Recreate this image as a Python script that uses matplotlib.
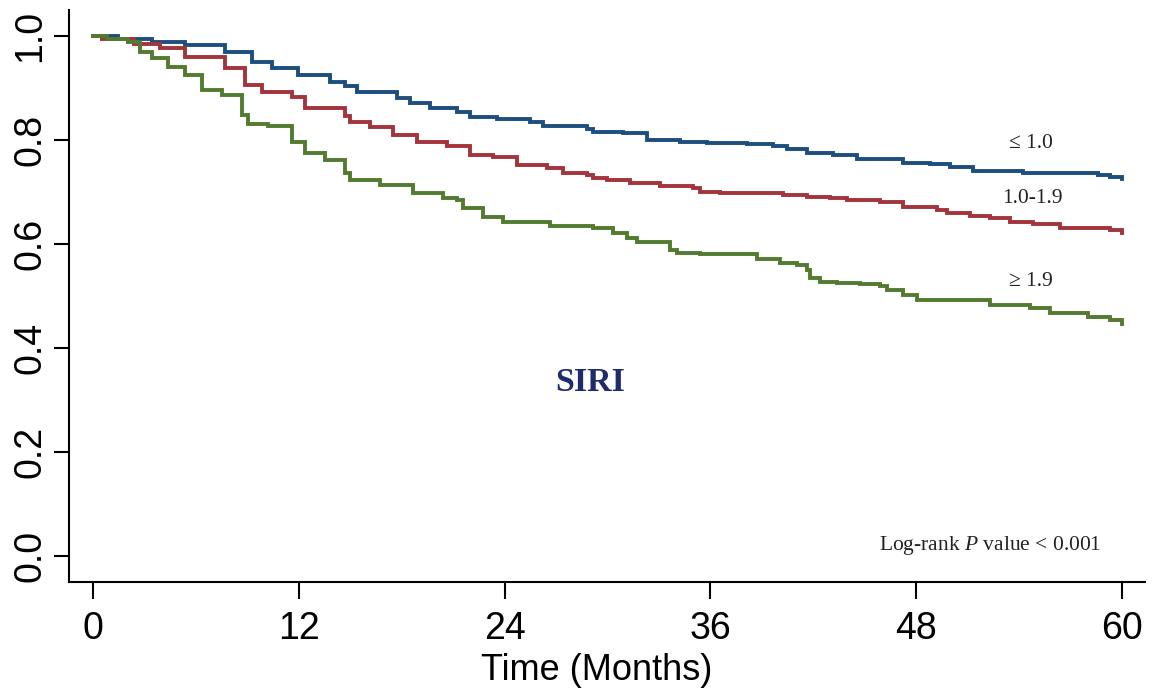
import matplotlib.pyplot as plt

plt.rcParams['mathtext.fontset'] = 'custom'
plt.rcParams['mathtext.rm'] = 'Liberation Serif'
plt.rcParams['mathtext.it'] = 'Liberation Serif:italic'

# survival estimates (month, survival), step changes
t_low = [0, 1.46, 3.44, 5.36, 7.70, 9.27, 10.44, 11.95, 13.82, 14.69, 15.39, 17.73,
         18.48, 19.65, 21.22, 21.98, 23.56, 25.48, 26.24, 28.80, 29.15, 30.90, 32.30,
         34.23, 35.80, 38.13, 39.65, 40.47, 41.63, 43.15, 44.55, 47.23, 48.80, 49.97,
         51.31, 54.23, 58.60, 59.30, 60]
s_low = [1.0, 0.995, 0.988, 0.983, 0.970, 0.950, 0.938, 0.925, 0.912, 0.903, 0.892, 0.880,
         0.871, 0.862, 0.854, 0.845, 0.840, 0.835, 0.827, 0.821, 0.815, 0.813, 0.800,
         0.796, 0.794, 0.792, 0.788, 0.783, 0.775, 0.771, 0.763, 0.756, 0.754, 0.748,
         0.741, 0.737, 0.733, 0.729, 0.725]

t_mid = [0, 0.5, 2.4, 3.9, 5.36, 7.70, 8.86, 9.85, 11.60, 12.36, 14.69, 14.99, 16.15,
         17.49, 18.89, 20.64, 21.98, 23.32, 24.72, 26.47, 27.41, 28.80, 29.15, 29.97,
         31.31, 33.06, 34.99, 35.39, 36.56, 40.23, 41.63, 42.97, 43.97, 45.89, 47.23,
         49.21, 49.80, 51.14, 52.30, 53.47, 54.81, 56.39, 59.30, 60]
s_mid = [1.0, 0.995, 0.985, 0.977, 0.960, 0.938, 0.906, 0.893, 0.883, 0.862, 0.847, 0.835, 0.825,
         0.810, 0.796, 0.788, 0.771, 0.767, 0.752, 0.746, 0.737, 0.733, 0.727, 0.723,
         0.717, 0.712, 0.708, 0.700, 0.698, 0.694, 0.690, 0.688, 0.685, 0.681, 0.671,
         0.665, 0.660, 0.654, 0.650, 0.642, 0.638, 0.631, 0.627, 0.622]

t_high = [0, 0.8, 2.04, 2.74, 3.44, 4.37, 5.36, 6.36, 7.52, 8.69, 9.04, 10.20, 11.60,
          12.36, 13.53, 14.69, 14.99, 16.73, 18.66, 20.41, 21.22, 21.57, 22.74, 23.91,
          26.65, 29.15, 30.32, 31.14, 31.72, 33.64, 34.05, 35.39, 38.72, 40.06, 41.05,
          41.63, 41.81, 42.39, 43.38, 44.72, 45.89, 46.30, 47.23, 48.05, 52.30, 54.64,
          55.80, 58.02, 59.30, 60]
s_high = [1.0, 0.995, 0.989, 0.970, 0.957, 0.941, 0.925, 0.896, 0.886, 0.848, 0.831, 0.826, 0.797,
          0.775, 0.762, 0.737, 0.723, 0.713, 0.698, 0.688, 0.685, 0.669, 0.652, 0.642,
          0.635, 0.631, 0.621, 0.612, 0.604, 0.588, 0.583, 0.581, 0.571, 0.564, 0.560,
          0.550, 0.535, 0.527, 0.525, 0.523, 0.519, 0.512, 0.502, 0.492, 0.483, 0.477,
          0.467, 0.460, 0.454, 0.446]

groups = ['\u2264 1.0', '1.0-1.9', '\u2265 1.9']
colors = ['#1d4e80', '#a3343c', '#527b30']
label_pos = [(54.7, 0.794), (54.8, 0.688), (54.7, 0.527)]

fig = plt.figure(figsize=(11.61, 7), dpi=100)
ax = fig.add_axes([0.0594, 0.1686, 0.9268, 0.8171])

for t, s, c in zip([t_low, t_mid, t_high], [s_low, s_mid, s_high], colors):
    ax.plot(t, s, drawstyle='steps-post', color=c, lw=2.8, solid_joinstyle='miter')

serif = ['Liberation Serif', 'DejaVu Serif']
for g, (x, y) in zip(groups, label_pos):
    ax.text(x, y, g, ha='center', va='center', fontsize=15.5, family=serif, color='#222222')

ax.text(52.3, 0.021, r'Log-rank $\it{P}$ value < 0.001', ha='center', va='center',
        fontsize=15.5, family=serif, color='#222222')
ax.text(29.0, 0.333, 'SIRI', ha='center', va='center', fontsize=24.5, family=serif,
        fontweight='bold', color='#1f2c6c')

ax.set_xlim(-1.4, 61.35)
ax.set_ylim(-0.05, 1.05)
ax.set_xticks([0, 12, 24, 36, 48, 60])
ax.set_yticks([0.0, 0.2, 0.4, 0.6, 0.8, 1.0])
ax.set_yticklabels(['0.0', '0.2', '0.4', '0.6', '0.8', '1.0'])

for side in ['top', 'right']:
    ax.spines[side].set_visible(False)
for side in ['left', 'bottom']:
    ax.spines[side].set_linewidth(1.5)

ax.tick_params(axis='x', length=12, width=1.5, pad=9, labelsize=27)
ax.tick_params(axis='y', length=11, width=1.5, pad=4, labelsize=27, labelrotation=90)
for lab in ax.get_yticklabels():
    lab.set_family('Liberation Sans')
    lab.set_va('center')
for lab in ax.get_xticklabels():
    lab.set_family('Liberation Sans')

ax.set_xlabel('Time (Months)', fontsize=26, family='Liberation Sans', va='center')
ax.xaxis.set_label_coords(0.49, -0.155)

fig.savefig('out.png', dpi=100)
